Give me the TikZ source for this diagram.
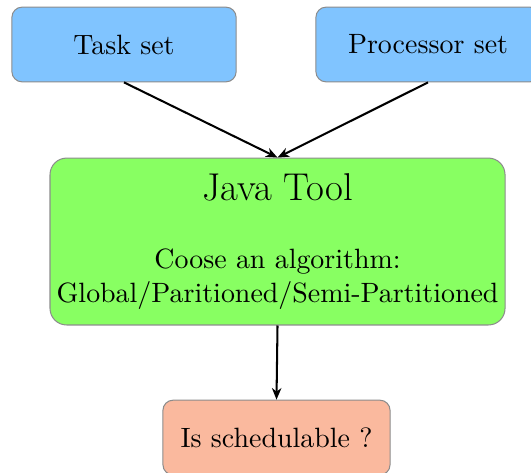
\documentclass[11pt,tikz,border=0pt]{standalone}
\usepackage{xcolor}
\usetikzlibrary{
    arrows.meta,
    positioning
}

\definecolor{setblue}{RGB}{128,196,255}
\definecolor{toolgreen}{RGB}{136,255,98}
\definecolor{resultred}{RGB}{250,185,158}

\begin{document}
\begin{tikzpicture}[
    inputbox/.style={
        rectangle,
        rounded corners=4pt,
        draw=black!45,
        align=center,
        minimum width=3.09cm,
        minimum height=1.03cm,
        fill=setblue
    },
    toolbox/.style={
        rectangle,
        rounded corners=6.5pt,
        draw=black!45,
        align=center,
        inner xsep=1pt,
        minimum width=6.27cm,
        minimum height=2.30cm,
        fill=toolgreen
    },
    resultbox/.style={
        rectangle,
        rounded corners=4pt,
        draw=black!45,
        align=center,
        minimum width=3.13cm,
        minimum height=1.03cm,
        fill=resultred
    },
    arrow/.style={
        -{Stealth[length=1.6mm,width=1.3mm,inset=0.5mm]},
        thick,
        draw=black
    }
]
\useasboundingbox (0,0) rectangle (7.317,-6.504);

% =========================================================
% Inputs
% =========================================================
\node[inputbox] (taskset) at (1.709,-0.613) {Task set};
\node[inputbox] (procset) at (5.898,-0.613) {Processor set};

% =========================================================
% Tool and result
% =========================================================
\node[toolbox] (javatool) at (3.824,-3.328) {
{\fontsize{15.2pt}{18pt}\selectfont Java Tool}\\[13pt]
Coose an algorithm:\\
Global/Paritioned/Semi-Partitioned
};

\node[resultbox] (schedulable) at (3.810,-6.029) {Is schedulable ?};

% =========================================================
% Relations
% =========================================================
\draw[arrow] (taskset.south) -- (javatool.north);
\draw[arrow] (procset.south) -- (javatool.north);
\draw[arrow] (javatool.south) -- (schedulable.north);

\end{tikzpicture}
\end{document}
